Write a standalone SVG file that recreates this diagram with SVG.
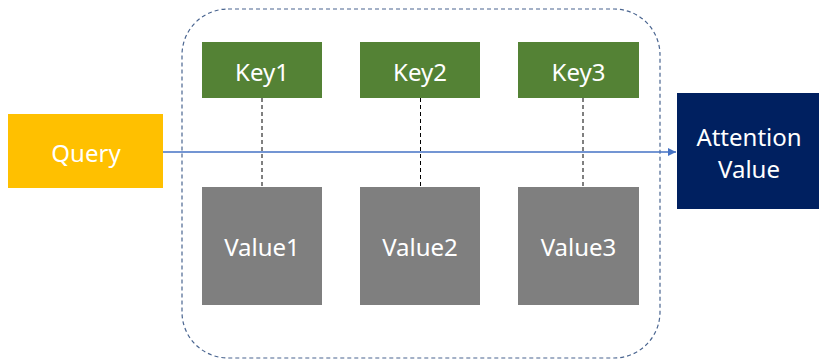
<svg xmlns="http://www.w3.org/2000/svg" width="819" height="360" viewBox="0 0 819 360">
<defs>
<style>
.t{font-family:"Noto Sans","Open Sans","Liberation Sans",sans-serif;font-size:24px;fill:#fff;text-anchor:middle;dominant-baseline:central}
.key{fill:#548235}
.val{fill:#7f7f7f}
.dash{stroke:#000;stroke-width:1;stroke-dasharray:4 3;fill:none}
</style>
<marker id="ah" viewBox="0 0 10 10" refX="10" refY="5" markerWidth="9" markerHeight="8" markerUnits="userSpaceOnUse" orient="auto">
<path d="M0,0 L10,5 L0,10 z" fill="#4472c4"/>
</marker>
</defs>
<rect x="0" y="0" width="819" height="360" fill="#fff"/>
<g id="container"><rect x="182" y="9" width="478" height="349" rx="46" ry="46" fill="none" stroke="#4a6590" stroke-width="1.2" stroke-dasharray="4 3"/></g>
<g id="connectors">
<line class="dash" x1="262" y1="98" x2="262" y2="187"/>
<line class="dash" x1="420.5" y1="98" x2="420.5" y2="187"/>
<line class="dash" x1="583" y1="98" x2="583" y2="187"/>
<line x1="163" y1="152" x2="676" y2="152" stroke="#4472c4" stroke-width="1.3" marker-end="url(#ah)"/>
</g>
<g id="query"><rect x="8" y="114" width="155" height="74" fill="#ffc000"/><text class="t" x="86" y="152">Query</text></g>
<g id="key1"><rect class="key" x="202" y="42" width="120" height="56"/><text class="t" x="262" y="71">Key1</text></g>
<g id="key2"><rect class="key" x="360" y="42" width="120" height="56"/><text class="t" x="420" y="71">Key2</text></g>
<g id="key3"><rect class="key" x="518" y="42" width="121" height="56"/><text class="t" x="578.5" y="71">Key3</text></g>
<g id="value1"><rect class="val" x="202" y="187" width="120" height="118"/><text class="t" x="262" y="246">Value1</text></g>
<g id="value2"><rect class="val" x="360" y="187" width="120" height="118"/><text class="t" x="420" y="246">Value2</text></g>
<g id="value3"><rect class="val" x="518" y="187" width="121" height="118"/><text class="t" x="578.5" y="246">Value3</text></g>
<g id="attention"><rect x="677" y="93" width="142" height="116" fill="#002060"/><text class="t" x="749" y="136">Attention</text><text class="t" x="749" y="168">Value</text></g>
</svg>
